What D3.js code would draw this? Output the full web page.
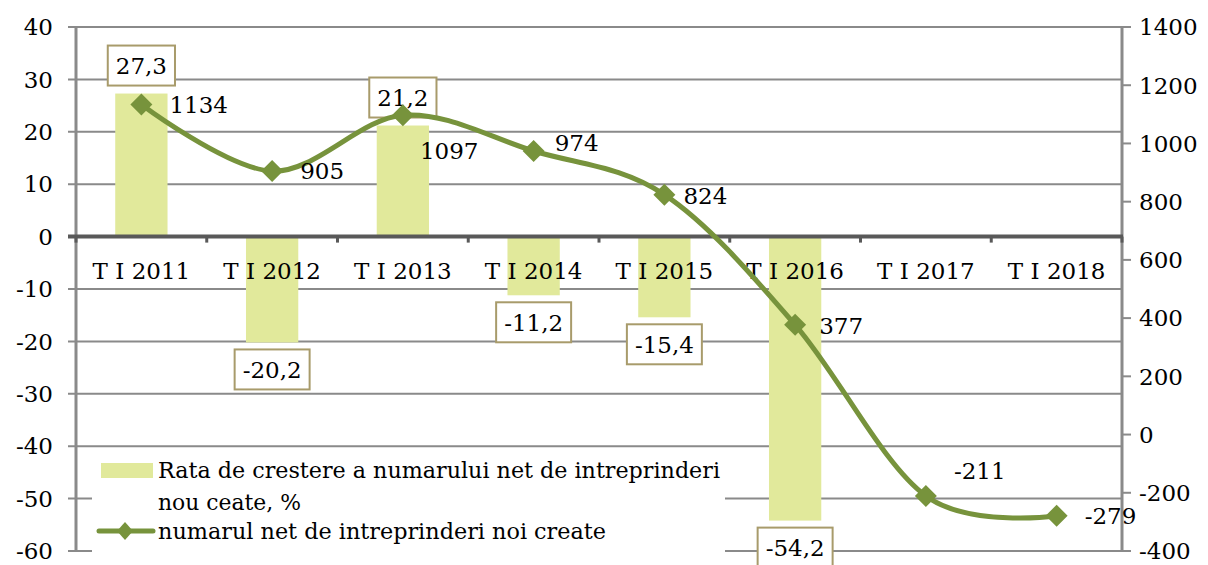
<!DOCTYPE html>
<html>
<head>
<meta charset="utf-8">
<script src="https://cdn.jsdelivr.net/npm/d3@7/dist/d3.min.js"></script>
<style>
  html, body { margin: 0; padding: 0; background: #ffffff; }
  svg { display: block; }
  text { font-family: "DejaVu Serif", "Liberation Serif", serif; fill: #000; }
</style>
</head>
<body>
<svg id="chart" width="1208" height="565"></svg>
<script>
// Quarterly data (first quarter of each year)
const categories = ["T I 2011", "T I 2012", "T I 2013", "T I 2014", "T I 2015", "T I 2016", "T I 2017", "T I 2018"];
const growthRate = [27.3, -20.2, 21.2, -11.2, -15.4, -54.2, null, null];       // %
const netNewFirms = [1134, 905, 1097, 974, 824, 377, -211, -279];              // count
const leftTicks = [40, 30, 20, 10, 0, -10, -20, -30, -40, -50, -60];
const rightTicks = [1400, 1200, 1000, 800, 600, 400, 200, 0, -200, -400];
const seriesNames = ["Rata de crestere a numarului net de intreprinderi", "nou ceate, %", "numarul net de intreprinderi noi create"];

// Hand-placed offsets for the line labels (dx, dy from each marker)
const lineLabelOffsets = [[28, 0], [28, 0], [17, 36], [21, -8], [19, 1], [24, 1], [28, -25], [28, 0]];

const svg = d3.select("#chart");
const plot = { left: 76, right: 1122, top: 27, bottom: 551 };
const fs = 23;

const x = d3.scaleBand().domain(categories).range([plot.left, plot.right]);
const yL = d3.scaleLinear().domain([-60, 40]).range([plot.bottom, plot.top]);
const yR = d3.scaleLinear().domain([-400, 1400]).range([plot.bottom, plot.top]);

const gridColor = "#8a8a8a";
const barColor = "#e1e99b";
const lineColor = "#77933c";
const boxColor = "#a89b6b";

// Plain hyphen for negatives, comma as decimal separator
const fmtRate = v => v.toFixed(1).replace(".", ",");

// Horizontal gridlines with outward ticks on the left
svg.append("g").selectAll("line").data(leftTicks.filter(d => d !== 0)).join("line")
  .attr("x1", plot.left - 8).attr("x2", plot.right)
  .attr("y1", d => yL(d)).attr("y2", d => yL(d))
  .attr("stroke", gridColor).attr("stroke-width", 2);

// Legend background hides the lower gridlines
const legend = { x: 92, y: 452, w: 633, h: 110 };
svg.append("rect").attr("x", legend.x).attr("y", legend.y)
  .attr("width", legend.w).attr("height", legend.h).attr("fill", "#fff");

// Bars
const barW = x.bandwidth() * 0.4;
const barData = categories.map((c, i) => ({ c, v: growthRate[i] })).filter(d => d.v !== null);
svg.append("g").selectAll("rect").data(barData).join("rect")
  .attr("x", d => x(d.c) + (x.bandwidth() - barW) / 2)
  .attr("width", barW)
  .attr("y", d => yL(Math.max(0, d.v)))
  .attr("height", d => Math.abs(yL(d.v) - yL(0)))
  .attr("fill", barColor);

// Left axis tick labels
svg.append("g").selectAll("text").data(leftTicks).join("text")
  .attr("x", 53).attr("y", d => yL(d)).attr("dy", "0.36em")
  .attr("text-anchor", "end").attr("font-size", fs)
  .text(d => d);

// Right axis ticks and labels
svg.append("g").selectAll("line").data(rightTicks).join("line")
  .attr("x1", plot.right).attr("x2", plot.right + 9)
  .attr("y1", d => yR(d)).attr("y2", d => yR(d))
  .attr("stroke", gridColor).attr("stroke-width", 2);
svg.append("g").selectAll("text").data(rightTicks).join("text")
  .attr("x", 1139).attr("y", d => yR(d)).attr("dy", "0.36em")
  .attr("text-anchor", "start").attr("font-size", fs)
  .text(d => d);

// Vertical axis lines
[plot.left, plot.right].forEach(xx => {
  svg.append("line").attr("x1", xx).attr("x2", xx)
    .attr("y1", plot.top).attr("y2", plot.bottom)
    .attr("stroke", gridColor).attr("stroke-width", 3);
});

// Category axis along zero
const y0 = yL(0);
svg.append("line").attr("x1", plot.left - 8).attr("x2", plot.right + 1)
  .attr("y1", y0).attr("y2", y0).attr("stroke", "#595959").attr("stroke-width", 4);
const boundaries = categories.map(c => x(c)).concat([plot.right]);
svg.append("g").selectAll("line").data(boundaries).join("line")
  .attr("x1", d => d).attr("x2", d => d)
  .attr("y1", y0).attr("y2", y0 + 6)
  .attr("stroke", "#595959").attr("stroke-width", 3);
svg.append("g").selectAll("text").data(categories).join("text")
  .attr("x", d => x(d) + x.bandwidth() / 2).attr("y", y0 + 34)
  .attr("dy", "0.36em").attr("text-anchor", "middle").attr("font-size", fs)
  .text(d => d);

// Bar value labels in outlined boxes
const barLabels = svg.append("g").selectAll("g").data(barData).join("g");
barLabels.each(function (d) {
  const g = d3.select(this);
  const cx = x(d.c) + x.bandwidth() / 2;
  const boxH = 40;
  const top = d.v >= 0 ? yL(d.v) - 8 - boxH : yL(d.v) + 7;
  const t = g.append("text").attr("x", cx).attr("y", top + boxH / 2).attr("dy", "0.36em")
    .attr("text-anchor", "middle").attr("font-size", fs)
    .text(fmtRate(d.v));
  const w = t.node().getComputedTextLength() + 16;
  g.insert("rect", "text").attr("x", cx - w / 2).attr("y", top)
    .attr("width", w).attr("height", boxH)
    .attr("fill", "#fff").attr("stroke", boxColor).attr("stroke-width", 2);
});

// Smoothed line for the net number of new firms
const pts = categories.map((c, i) => ({ c, v: netNewFirms[i], i }));
const line = d3.line()
  .x(d => x(d.c) + x.bandwidth() / 2)
  .y(d => yR(d.v))
  .curve(d3.curveCardinal.tension(0));
svg.append("path").datum(pts).attr("d", line)
  .attr("fill", "none").attr("stroke", lineColor).attr("stroke-width", 5)
  .attr("stroke-linejoin", "round").attr("stroke-linecap", "round");

const diamond = "M0,-11L11,0L0,11L-11,0Z";
svg.append("g").selectAll("path").data(pts).join("path")
  .attr("d", diamond)
  .attr("transform", d => `translate(${x(d.c) + x.bandwidth() / 2},${yR(d.v)})`)
  .attr("fill", lineColor);

svg.append("g").selectAll("text").data(pts).join("text")
  .attr("x", d => x(d.c) + x.bandwidth() / 2 + lineLabelOffsets[d.i][0])
  .attr("y", d => yR(d.v) + lineLabelOffsets[d.i][1])
  .attr("dy", "0.36em").attr("font-size", fs)
  .text(d => d.v);

// Legend
const lg = svg.append("g");
lg.append("rect").attr("x", 101).attr("y", 463).attr("width", 52).attr("height", 15).attr("fill", barColor);
lg.append("text").attr("x", 158).attr("y", 478).attr("font-size", fs)
  .attr("textLength", 562).attr("lengthAdjust", "spacingAndGlyphs").text(seriesNames[0]);
lg.append("text").attr("x", 158).attr("y", 510).attr("font-size", fs)
  .attr("textLength", 143).attr("lengthAdjust", "spacingAndGlyphs").text(seriesNames[1]);
lg.append("line").attr("x1", 99).attr("x2", 153).attr("y1", 531).attr("y2", 531)
  .attr("stroke", lineColor).attr("stroke-width", 5).attr("stroke-linecap", "round");
lg.append("path").attr("d", "M0,-9L8,0L0,9L-8,0Z").attr("transform", "translate(125,531)").attr("fill", lineColor);
lg.append("text").attr("x", 158).attr("y", 539).attr("font-size", fs)
  .attr("textLength", 448).attr("lengthAdjust", "spacingAndGlyphs").text(seriesNames[2]);
</script>
</body>
</html>
